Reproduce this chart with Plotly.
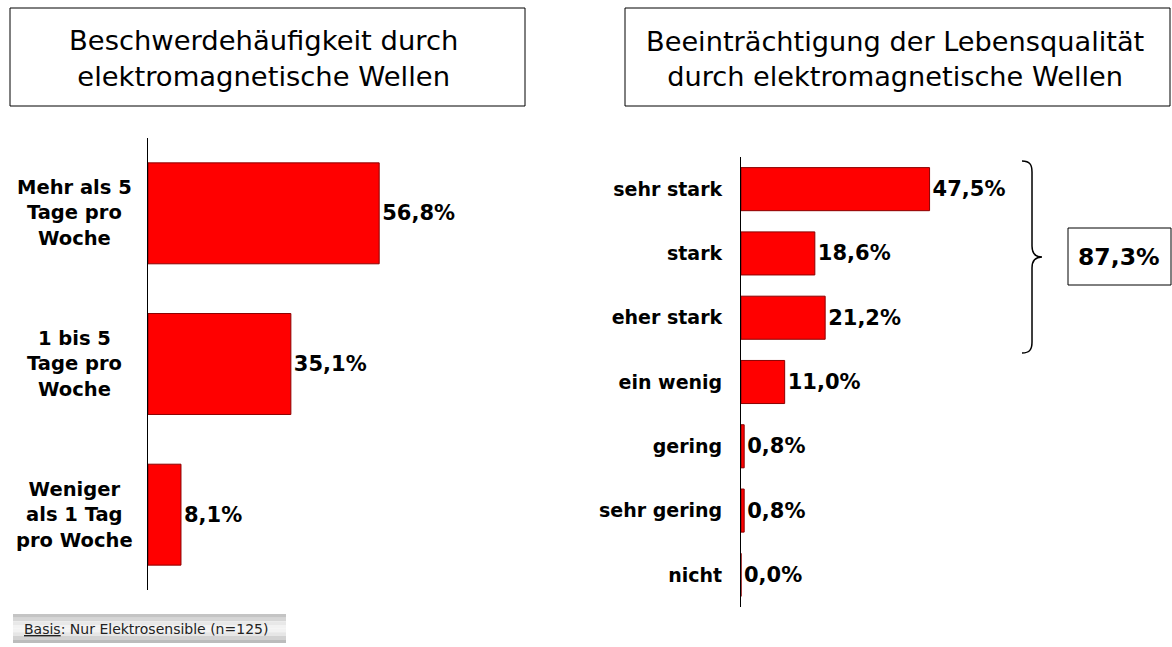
import plotly.graph_objects as go

W, H = 1172, 647

# left chart: complaint frequency
freq_labels = ["Mehr als 5<br>Tage pro<br>Woche", "1 bis 5<br>Tage pro<br>Woche", "Weniger<br>als 1 Tag<br>pro Woche"]
freq_keys = ["mehr5", "1bis5", "weniger1"]
freq_values = [56.8, 35.1, 8.1]
freq_text = ["56,8%", "35,1%", "8,1%"]

# right chart: impairment of quality of life
qual_labels = ["sehr stark", "stark", "eher stark", "ein wenig", "gering", "sehr gering", "nicht"]
qual_values = [47.5, 18.6, 21.2, 11.0, 0.8, 0.8, 0.0]
qual_text = ["47,5%", "18,6%", "21,2%", "11,0%", "0,8%", "0,8%", "0,0%"]
total_text = "87,3%"

title_left = "Beschwerdehäufigkeit durch<br>elektromagnetische Wellen"
title_right = "Beeinträchtigung der Lebensqualität<br>durch elektromagnetische Wellen"
footer = "<u>Basis</u>: Nur Elektrosensible (n=125)"

FONT = "DejaVu Sans"
RED = "#ff0000"
EDGE = "#8b0000"


def px(x):
    return x / W


def py(y):
    return 1 - y / H


fig = go.Figure()

fig.add_trace(go.Bar(
    x=freq_values, y=freq_keys, orientation="h",
    marker=dict(color=RED, line=dict(color=EDGE, width=1)),
    text=freq_text, textposition="outside", cliponaxis=False,
    textfont=dict(family=FONT, size=21, color="black", weight="bold"),
    xaxis="x", yaxis="y", showlegend=False,
))
fig.add_trace(go.Bar(
    x=qual_values, y=qual_labels, orientation="h",
    marker=dict(color=RED, line=dict(color=EDGE, width=1)),
    text=qual_text, textposition="outside", cliponaxis=False,
    textfont=dict(family=FONT, size=21, color="black", weight="bold"),
    xaxis="x2", yaxis="y2", showlegend=False,
))

fig.update_layout(
    width=W, height=H,
    margin=dict(l=0, r=0, t=0, b=0),
    paper_bgcolor="white", plot_bgcolor="white",
    bargap=0.33,
    font=dict(family=FONT, color="black"),
    xaxis=dict(domain=[px(148), px(548)], range=[0, 400 / 4.07], visible=False, fixedrange=True),
    yaxis=dict(domain=[py(590), py(138)], range=[2.5, -0.5], showline=True, linecolor="black",
               linewidth=1, showticklabels=False, ticks="", showgrid=False, anchor="x"),
    xaxis2=dict(domain=[px(741), px(1141)], range=[0, 400 / 3.97], visible=False, anchor="y2"),
    yaxis2=dict(domain=[py(607), py(157)], range=[6.5, -0.5], showline=True, linecolor="black",
                linewidth=1, ticks="", showgrid=False, anchor="x2", ticklabelstandoff=14,
                tickfont=dict(family=FONT, size=19, color="black", weight="bold")),
)

annotations = []
for key, lab in zip(freq_keys, freq_labels):
    annotations.append(dict(x=px(74), xref="paper", y=key, yref="y", text="<b>" + lab + "</b>",
                            showarrow=False, align="center", xanchor="center",
                            font=dict(family=FONT, size=19.5, color="black")))

annotations += [
    dict(x=px(263), y=py(59), xref="paper", yref="paper", text=title_left, showarrow=False,
         align="center", xanchor="center", yanchor="middle",
         font=dict(family=FONT, size=27.4, color="black")),
    dict(x=px(895), y=py(59), xref="paper", yref="paper", text=title_right, showarrow=False,
         align="center", xanchor="center", yanchor="middle",
         font=dict(family=FONT, size=27.2, color="black")),
    dict(x=px(1119), y=py(257), xref="paper", yref="paper", text="<b>" + total_text + "</b>",
         showarrow=False, xanchor="center", yanchor="middle",
         font=dict(family=FONT, size=23.5, color="black")),
    dict(x=px(22), y=py(629), xref="paper", yref="paper", text=footer, showarrow=False,
         xanchor="left", yanchor="middle", font=dict(family=FONT, size=14, color="#222222")),
]
fig.update_layout(annotations=annotations)

shapes = [
    dict(type="rect", xref="paper", yref="paper", x0=px(10), x1=px(525), y0=py(106), y1=py(8),
         line=dict(color="black", width=1)),
    dict(type="rect", xref="paper", yref="paper", x0=px(625), x1=px(1170), y0=py(106), y1=py(8),
         line=dict(color="black", width=1)),
    dict(type="rect", xref="paper", yref="paper", x0=px(1068), x1=px(1171), y0=py(285), y1=py(228),
         line=dict(color="black", width=1)),
]

# footer box with a simple vertical gray gradient
grad = ["#c4c4c4", "#d6d6d6", "#e8e8e8", "#f2f2f2", "#f2f2f2", "#e6e6e6", "#d2d2d2", "#bcbcbc"]
top, bot = 614, 643
step = (bot - top) / len(grad)
for i, c in enumerate(grad):
    shapes.append(dict(type="rect", xref="paper", yref="paper", layer="below",
                       x0=px(13), x1=px(286), y0=py(top + (i + 1) * step), y1=py(top + i * step),
                       line=dict(width=0), fillcolor=c))

# curly brace grouping the top three bars
pts = [(1022, 161), (1030, 161), (1032, 165), (1032, 172), (1032, 246),
       (1032, 253), (1035, 257), (1042, 257), (1035, 257), (1032, 261), (1032, 268),
       (1032, 342), (1032, 349), (1030, 353), (1022, 353)]
P = [f"{px(x):.5f},{py(y):.5f}" for x, y in pts]
path = (f"M {P[0]} C {P[1]} {P[2]} {P[3]} L {P[4]} C {P[5]} {P[6]} {P[7]} "
        f"C {P[8]} {P[9]} {P[10]} L {P[11]} C {P[12]} {P[13]} {P[14]}")
shapes.append(dict(type="path", xref="paper", yref="paper", path=path,
                   line=dict(color="black", width=1.5)))
fig.update_layout(shapes=shapes)

fig.write_html("out.html", config={"displayModeBar": False},
               post_script="document.body.style.margin='0px';")
